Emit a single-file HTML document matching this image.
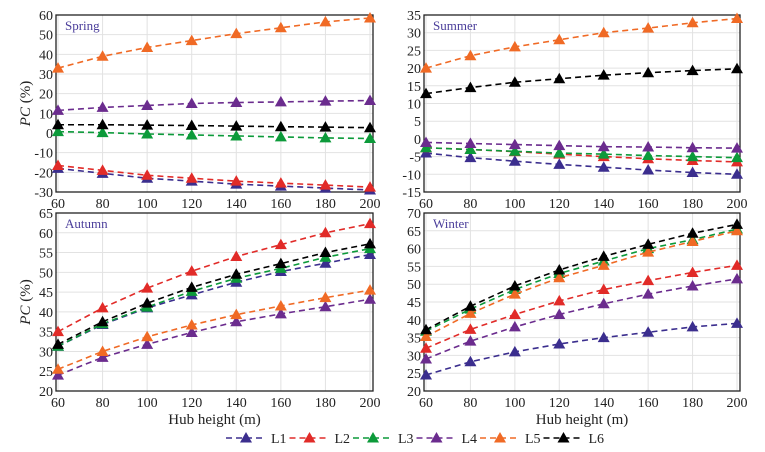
<!DOCTYPE html>
<html><head><meta charset="utf-8"><style>
body{margin:0;background:#fff;}
svg{display:block;}
svg text{font-family:"Liberation Serif","Times New Roman",serif;}
</style></head><body>
<svg id="c" width="765" height="452"></svg>
<script>
const xs=[60,80,100,120,140,160,180,200];
const seriesNames=["L1","L2","L3","L4","L5","L6"];
const colors=["#3b2e8e","#e12b28","#0c9a3a","#6b2c8e","#f06a25","#000000"];
const springVals=[[-18,-20.5,-23,-24.5,-26,-27,-28,-29],[-16.5,-19,-21.5,-23,-24.5,-25.5,-26.5,-27.5],[0.7,0.2,-0.5,-1,-1.5,-2,-2.5,-2.8],[11.5,13,14,15,15.5,15.8,16.2,16.5],[33,39,43.5,47,50.5,53.5,56.5,58.5],[4.2,4.2,4,3.8,3.5,3.2,3,2.7]];
const summerVals=[[-4,-5.3,-6.3,-7.2,-8,-8.8,-9.5,-10],[-2.5,-3,-3.6,-4.3,-5,-5.6,-6.1,-6.5],[-2.5,-3,-3.5,-4,-4.3,-4.7,-5,-5.3],[-1,-1.3,-1.6,-1.9,-2.2,-2.3,-2.5,-2.6],[20,23.5,26,28,30,31.3,32.8,34],[12.8,14.5,16,17,18,18.7,19.3,19.8]];
const autumnVals=[[31.3,36.8,41,44.3,47.5,50.2,52.3,54.5],[35,41,46,50.3,54,57,60,62.3],[31.3,37,41.2,45.2,48.5,51,53.8,56],[24,28.5,31.8,34.8,37.5,39.5,41.3,43.2],[25.5,30,33.7,36.7,39.3,41.5,43.6,45.5],[31.8,37.5,42.2,46.2,49.5,52.2,55,57.2]];
const winterVals=[[24.5,28.2,31,33.2,35,36.5,38,39],[32,37.3,41.5,45.3,48.5,51,53.3,55.3],[36.8,43,48.5,53,56.5,60,62.5,65.5],[29,34,38,41.5,44.5,47.2,49.5,51.5],[35.3,41.8,47.2,51.8,55.3,59,62,65],[37.2,43.8,49.5,54,57.8,61.2,64.3,66.8]];
const springTicks=[-30,-20,-10,0,10,20,30,40,50,60];
const summerTicks=[-15,-10,-5,0,5,10,15,20,25,30,35];
const autumnTicks=[20,25,30,35,40,45,50,55,60,65];
const winterTicks=[20,25,30,35,40,45,50,55,60,65,70];

const NS="http://www.w3.org/2000/svg";
const svg=document.getElementById('c');
function mk(t,a,p){const e=document.createElementNS(NS,t);for(const k in a)e.setAttribute(k,a[k]);(p||svg).appendChild(e);return e;}
function tri(g,cx,cy,col){return mk('polygon',{points:`${cx},${cy-6} ${cx-6},${cy+4.5} ${cx+6},${cy+4.5}`,fill:col},g);}

const panels=[
 {name:"spring",label:"Spring",vals:springVals,ticks:springTicks,L:56,R:373,T:15,B:192,xl:false,yl:true},
 {name:"summer",label:"Summer",vals:summerVals,ticks:summerTicks,L:424,R:740,T:15,B:192,xl:false,yl:false},
 {name:"autumn",label:"Autumn",vals:autumnVals,ticks:autumnTicks,L:56,R:373,T:213,B:391,xl:true,yl:true},
 {name:"winter",label:"Winter",vals:winterVals,ticks:winterTicks,L:424,R:740,T:213,B:391,xl:true,yl:false}
];
panels.forEach(p=>{
 const g=mk('g',{});
 
 
 const ymin=p.ticks[0],ymax=p.ticks[p.ticks.length-1];
 const xS=v=>p.L+2+(v-60)/140*(p.R-p.L-5);
 const yS=v=>p.B-(v-ymin)/(ymax-ymin)*(p.B-p.T);
 xs.forEach(x=>{mk('line',{x1:xS(x),x2:xS(x),y1:p.T,y2:p.B,stroke:'#e2e2e2','stroke-width':1},g);
  const t=mk('text',{x:xS(x),y:p.B+16,'text-anchor':'middle','font-size':14,fill:'#222'},g);t.textContent=x;
  
  });
 p.ticks.forEach(v=>{mk('line',{x1:p.L,x2:p.R,y1:yS(v),y2:yS(v),stroke:'#e2e2e2','stroke-width':1},g);
  const t=mk('text',{x:p.L-3,y:yS(v)+5,'text-anchor':'end','font-size':14,fill:'#222'},g);t.textContent=v;
  
  });
 mk('rect',{x:p.L,y:p.T,width:p.R-p.L,height:p.B-p.T,fill:'none',stroke:'#222','stroke-width':1.3},g);
 const lb=mk('text',{x:p.L+9,y:p.T+15,'font-size':13,fill:'#4a3d9a'},g);lb.textContent=p.label;
 
 
 p.vals.forEach((s,i)=>{
  const sg=mk('g',{},g);
  
  
  mk('polyline',{points:s.map((v,j)=>xS(xs[j])+','+yS(v)).join(' '),fill:'none',stroke:colors[i],'stroke-width':1.6,'stroke-dasharray':'6,4'},sg);
  s.forEach((v,j)=>{const m=tri(sg,xS(xs[j]),yS(v),colors[i]);
   
   });
 });
 if(p.xl){const t=mk('text',{x:(p.L+p.R)/2,y:424,'text-anchor':'middle','font-size':15,fill:'#222'});t.textContent='Hub height (m)';
  
  }
 if(p.yl){const cy=(p.T+p.B)/2;const t=mk('text',{x:0,y:0,'text-anchor':'middle','font-size':15,fill:'#222',transform:`translate(30,${cy}) rotate(-90)`});
  t.innerHTML='<tspan font-style="italic">PC</tspan> (%)';
  
  }
});
const lg=mk('g',{});


seriesNames.forEach((n,i)=>{
 const x0=226+i*63.5;
 const e=mk('g',{},lg);
 
 
 mk('line',{x1:x0,x2:x0+40,y1:438,y2:438,stroke:colors[i],'stroke-width':1.6,'stroke-dasharray':'6,4'},e);
 tri(e,x0+20,438,colors[i]);
 const t=mk('text',{x:x0+45,y:443,'font-size':14,fill:'#222'},e);t.textContent=n;
});
</script>
</body></html>
